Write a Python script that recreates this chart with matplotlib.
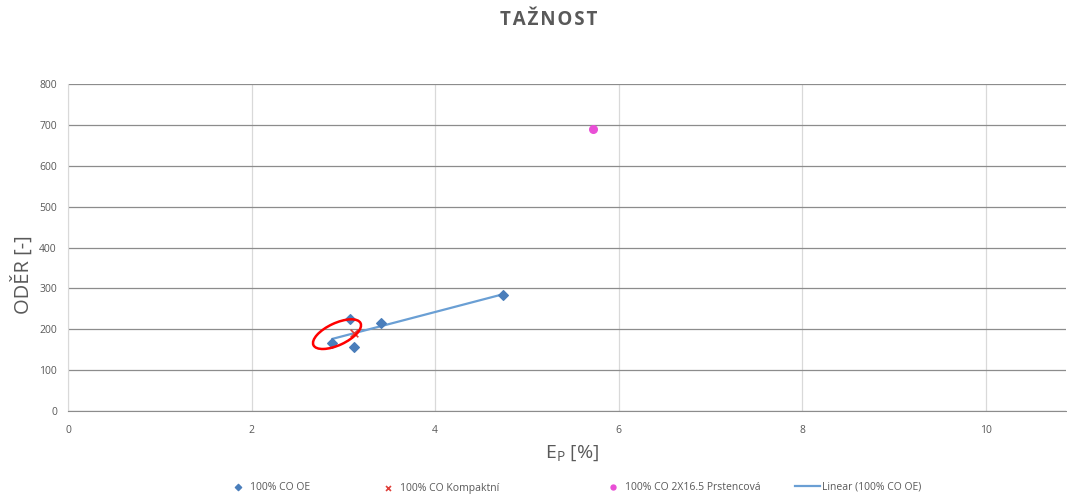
import numpy as np
import matplotlib
matplotlib.use('Agg')
import matplotlib.pyplot as plt
import matplotlib.transforms as mtransforms
from matplotlib.patches import Ellipse

# data
oe_x = [2.88, 3.07, 3.12, 3.41, 4.74]
oe_y = [167, 224, 157, 216, 284]
komp_x = [3.12]
komp_y = [191]
prst_x = [5.72]
prst_y = [689]

x_ticks = [0, 2, 4, 6, 8, 10]
y_ticks = [0, 100, 200, 300, 400, 500, 600, 700, 800]

plt.rcParams['font.family'] = ['Open Sans', 'DejaVu Sans']
grey = '#595959'
W, H = 1067, 495

fig = plt.figure(figsize=(W / 100, H / 100), dpi=100)
ax = fig.add_axes([68 / W, (H - 411) / H, 998 / W, 327 / H])

ax.scatter(oe_x, oe_y, marker='D', s=24, color='#4a7ebb', zorder=3,
           label='100% CO OE')
ax.scatter(komp_x, komp_y, marker='x', s=30, color='#e0403a', linewidths=1.2,
           zorder=4, label='100% CO Kompaktní')
ax.scatter(prst_x, prst_y, marker='o', s=30, color='#e94fd6', zorder=3,
           label='100% CO 2X16.5 Prstencová')

# linear trend of the OE series
k, q = np.polyfit(oe_x, oe_y, 1)
tx = np.array([min(oe_x), max(oe_x)])
ax.plot(tx, k * tx + q, color='#6a9fd4', lw=1.6, zorder=2,
        label='Linear (100% CO OE)')

# red highlight ellipse (sized in inches, centred on a data point)
trans = fig.dpi_scale_trans + mtransforms.ScaledTranslation(2.93, 188, ax.transData)
ax.add_patch(Ellipse((0, 0), 0.52, 0.22, angle=25, fill=False,
                     edgecolor='#ff0000', lw=1.8, transform=trans, zorder=5))

ax.set_xlim(0, 10.87)
ax.set_ylim(0, 800)
ax.set_xticks(x_ticks)
ax.set_yticks(y_ticks)
ax.tick_params(length=0, labelsize=7.5, labelcolor=grey)
ax.tick_params(axis='y', pad=8)
ax.tick_params(axis='x', pad=10)
ax.grid(axis='y', color='#8c8c8c', lw=0.9)
ax.grid(axis='x', color='#d9d9d9', lw=0.9)
ax.set_axisbelow(True)
for s in ['top', 'right']:
    ax.spines[s].set_visible(False)
ax.spines['left'].set_color('#d9d9d9')
ax.spines['bottom'].set_color('#8c8c8c')

ax.set_xlabel('E$_\\mathregular{P}$ [%]', fontsize=14, color=grey)
ax.xaxis.set_label_coords(0.505, -0.098)
ax.set_ylabel('ODĚR [-]', fontsize=14.5, color=grey, va='center')
ax.yaxis.set_label_coords(-0.046, 0.416)

fig.text(549 / W, 1 - 20 / H, '\u200a'.join('TAŽNOST'), ha='center', va='center',
         fontsize=13.5, fontweight='bold', color=grey)

# legend entries placed one by one like the original
handles, labels = ax.get_legend_handles_labels()
starts = [232, 382, 607, 795]
ys = [487, 488, 487, 487]
hlens = [1.2, 1.2, 1.2, 2.4]
pads = [0.5, 0.5, 0.5, 0.2]
for h, l, x0, y0, hl, hp in zip(handles, labels, starts, ys, hlens, pads):
    fig.legend([h], [l], loc='center left', bbox_to_anchor=(x0 / W, 1 - y0 / H),
               frameon=False, fontsize=7.5, labelcolor=grey, borderpad=0,
               borderaxespad=0, handlelength=hl, handletextpad=hp,
               markerscale=0.65)

fig.savefig('out.png', dpi=100)
